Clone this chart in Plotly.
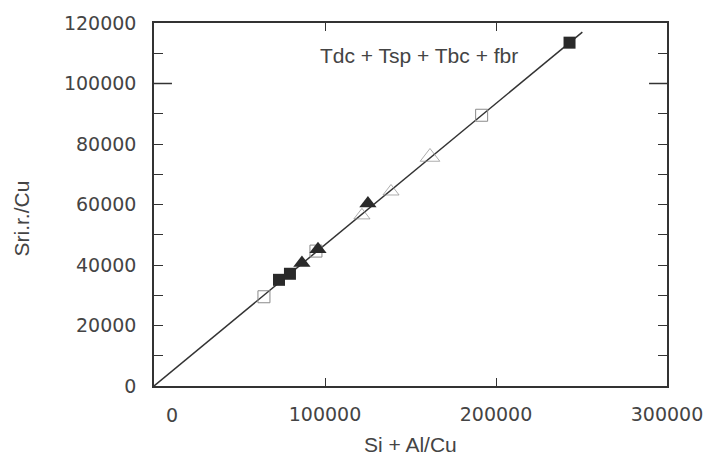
import plotly.graph_objects as go

# ---- data ----
filled_sq_x = [73100, 79500, 243000]
filled_sq_y = [35100, 37100, 113500]
open_sq_x = [64300, 94700, 191600]
open_sq_y = [29500, 44600, 89500]
filled_tri_x = [86500, 95900, 125100]
filled_tri_y = [40700, 45200, 60300]
open_tri_x = [121600, 138600, 161400]
open_tri_y = [56400, 64300, 75700]
fit_x = [0, 250500]
fit_y = [0, 117000]

y_tickvals = [0, 10000, 20000, 30000, 40000, 50000, 60000, 70000, 80000, 90000, 100000, 110000, 120000]
y_ticktext = ["0", "", "20000", "", "40000", "", "60000", "", "80000", "", "100000", "", "120000"]
x_tickvals = [0, 100000, 200000, 300000]
x_ticktext = ["", "100000", "200000", "300000"]
x_zero_label = "0"
label_text = "Tdc + Tsp + Tbc + fbr"
x_title = "Si + Al/Cu"
y_title = "Sri.r./Cu"

DARK = "#2a2a2a"
GRAY = "#8a8a8a"
TXT = "#444444"
FONT = "Liberation Sans, Arial, sans-serif"
TICKFONT = "DejaVu Sans, sans-serif"

fig = go.Figure()
fig.add_trace(go.Scatter(x=fit_x, y=fit_y, mode="lines",
                         line=dict(color="#333333", width=1.5), showlegend=False))
fig.add_trace(go.Scatter(x=open_sq_x, y=open_sq_y, mode="markers",
                         marker=dict(symbol="square-open", size=12, color=GRAY, line=dict(width=1)),
                         showlegend=False))
fig.add_trace(go.Scatter(x=open_tri_x, y=open_tri_y, mode="markers",
                         marker=dict(symbol="triangle-up-open", size=[14, 14, 17], color=GRAY, line=dict(width=1)),
                         showlegend=False))
fig.add_trace(go.Scatter(x=filled_sq_x, y=filled_sq_y, mode="markers",
                         marker=dict(symbol="square", size=12, color=DARK, line=dict(width=0)),
                         showlegend=False))
fig.add_trace(go.Scatter(x=filled_tri_x, y=filled_tri_y, mode="markers",
                         marker=dict(symbol="triangle-up", size=15, color=DARK, line=dict(width=0)),
                         showlegend=False))

fig.update_xaxes(range=[0, 300000], tickvals=x_tickvals, ticktext=x_ticktext,
                 ticks="inside", ticklen=8, tickwidth=1.2, tickcolor="#333333",
                 showline=True, linecolor="#333333", linewidth=1.5, mirror="ticks",
                 showgrid=False, zeroline=False, ticklabelstandoff=10,
                 tickfont=dict(family=TICKFONT, size=19, color=TXT))
fig.update_yaxes(range=[0, 120000], tickvals=y_tickvals, ticktext=y_ticktext,
                 ticks="inside", ticklen=9, tickwidth=1.2, tickcolor="#333333",
                 showline=True, linecolor="#333333", linewidth=1.5, mirror="ticks",
                 showgrid=False, zeroline=False, ticklabelstandoff=12,
                 tickfont=dict(family=TICKFONT, size=19, color=TXT))

# longer ticks at 100000 on both sides
for x0, x1 in [(0, 0.035), (0.965, 1)]:
    fig.add_shape(type="line", xref="x domain", yref="y", x0=x0, x1=x1, y0=100000, y1=100000,
                  line=dict(color="#333333", width=1.5))

fig.add_annotation(x=10500, y=0, xref="x", yref="y", text=x_zero_label, showarrow=False,
                   yshift=-29, font=dict(family=TICKFONT, size=19, color=TXT))
fig.add_annotation(x=155000, y=109200, xref="x", yref="y", text=label_text, showarrow=False,
                   font=dict(family=FONT, size=21, color=TXT))
fig.add_annotation(x=0.5, y=-0.0, xref="paper", yref="paper", text=x_title, showarrow=False,
                   yshift=-72, font=dict(family=FONT, size=21, color=TXT))
fig.add_annotation(x=0, y=0.46, xref="paper", yref="paper", text=y_title, showarrow=False,
                   textangle=-90, xshift=-146, font=dict(family=FONT, size=21, color=TXT))

fig.update_layout(width=721, height=455, margin=dict(l=154, r=54, t=20, b=69),
                  plot_bgcolor="white", paper_bgcolor="white")

fig.write_html("out.html")
